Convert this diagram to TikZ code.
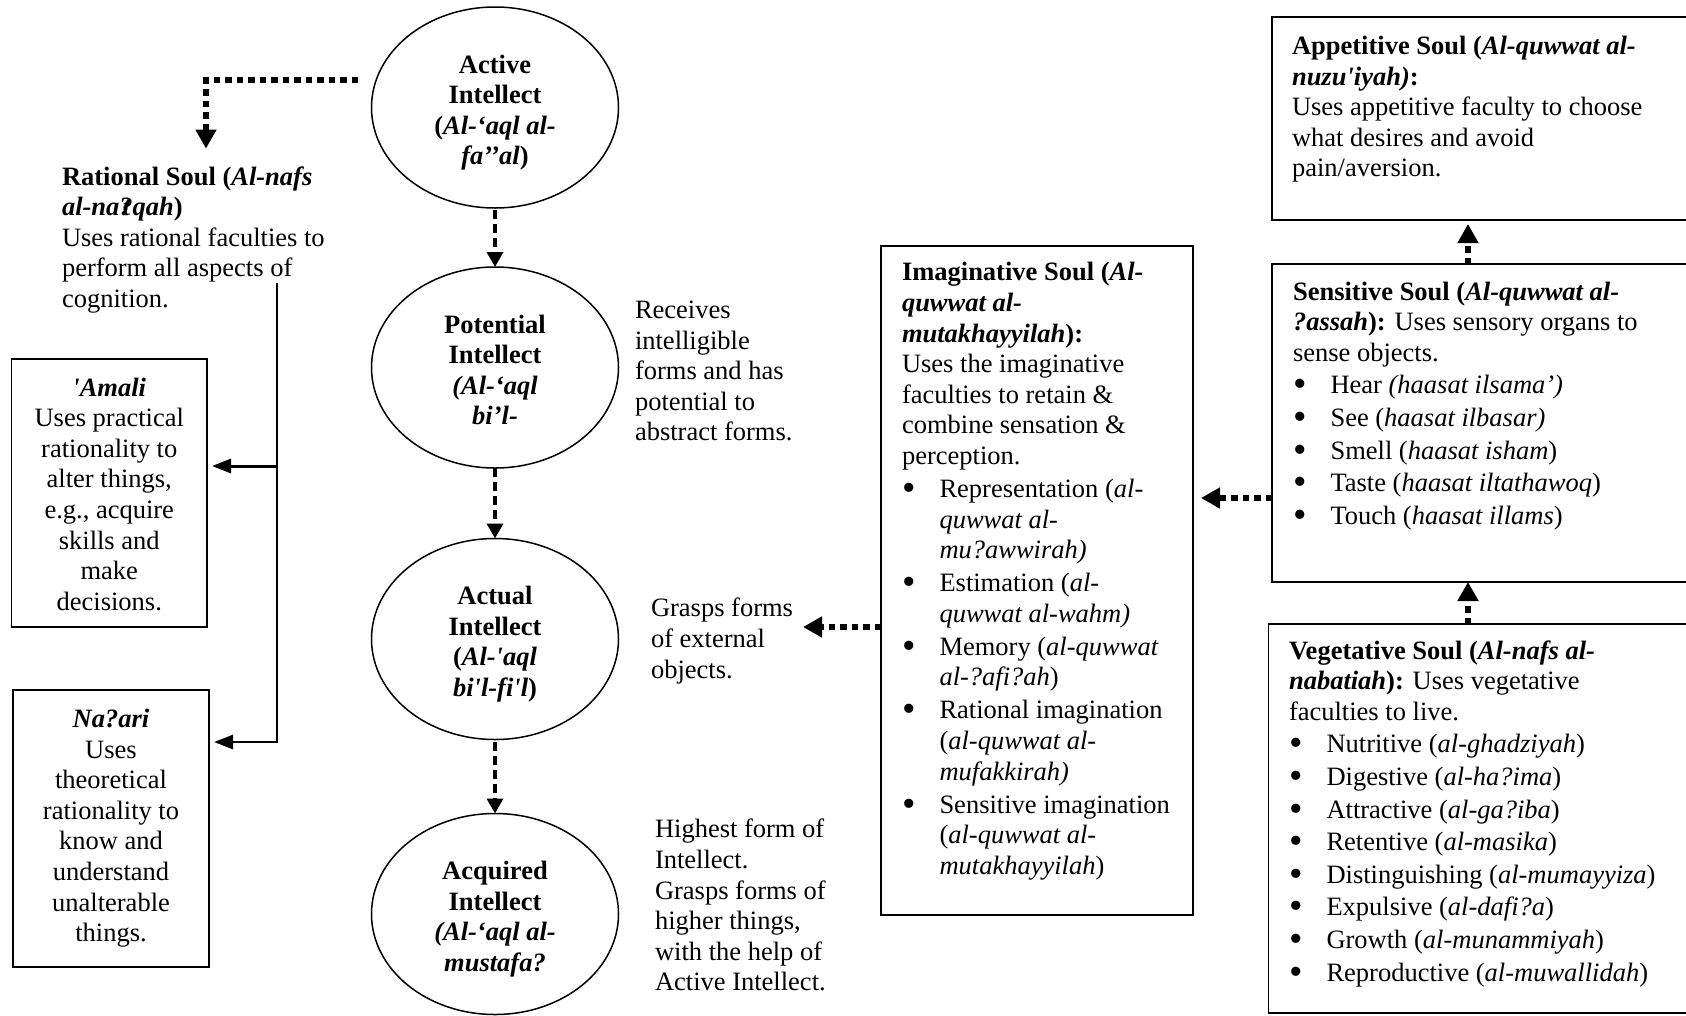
\documentclass[tikz,border=0pt]{standalone}
\usepackage{fontspec}
\setmainfont{Liberation Serif}
\usetikzlibrary{arrows.meta,shapes.geometric,calc}
\newcommand\sq{\XeTeXglyph\XeTeXcharglyph"27\relax}
\newcommand\bul{\makebox[37.5pt][l]{\raisebox{-3pt}{\scalebox{1.45}{\textbullet}}}}
\newcommand\ind{\hspace*{37.5pt}}
\newcommand\tallstrut{\rule{0pt}{32pt}}
\begin{document}
\begin{tikzpicture}[x=1pt,y=-1pt,
  every node/.style={inner sep=0pt,outer sep=0pt,font=\fontsize{26.5}{30.6}\selectfont},
  intellect/.style={ellipse,draw,line width=1.5pt,minimum width=247pt,minimum height=201pt,
    align=center,font=\fontsize{26.5}{30.6}\selectfont\bfseries},
  soulbox/.style={rectangle,draw,line width=1.8pt},
  txt/.style={anchor=north west,align=left},
  dasharrow/.style={line width=3.5pt,dash pattern=on 9pt off 5pt,-{Triangle[length=15pt,width=16pt]}},
  dotarrow/.style={line width=6pt,dash pattern=on 6.5pt off 5pt,-{Triangle[length=19pt,width=20pt]}},
  solidarrow/.style={line width=3pt,-{Triangle[length=19pt,width=14pt]}}]
\useasboundingbox (0,0) rectangle (1686,1015);
\clip (0,0) rectangle (1686,1015);

% intellect chain
\node[intellect] (act) at (495,107.5) {\tallstrut Active\\Intellect\\(\textit{Al-‘aql al-}\\\textit{fa’’al})\strut};
\node[intellect] (pot) at (495,367.5) {\tallstrut Potential\\Intellect\\\textit{(Al-‘aql}\\\textit{bi’l-}\strut};
\node[intellect] (actu) at (495,639) {\tallstrut Actual\\Intellect\\(\textit{Al-\sq aql}\\\textit{bi\sq l-fi\sq l})\strut};
\node[intellect] (acq) at (495,914) {\tallstrut Acquired\\Intellect\\\textit{(Al-‘aql al-}\\\textit{mustafa?}\strut};

\draw[dasharrow] ([yshift=-2pt]act.south) -- (pot.north);
\draw[dasharrow] (pot.south) -- (actu.north);
\draw[dasharrow] ([yshift=-2pt]actu.south) -- (acq.north);

% descriptions of intellects
\node[txt] (rec) at (635,297) {\strut Receives\\intelligible\\forms and has\\potential to\\abstract forms.\strut};
\node[txt] (gra) at (651,595.5) {\strut Grasps forms\\of external\\objects.\strut};
\node[txt] (hig) at (655,816.5) {\strut Highest form of\\Intellect.\\Grasps forms of\\higher things,\\with the help of\\Active Intellect.\strut};

% rational soul
\node[txt] (rat) at (62,163.6) {\strut\textbf{Rational Soul (\textit{Al-nafs}}\\
\textbf{\textit{al-na\makebox[0.5em][l]{\rlap{?}\kern0.12em t}qah})}\\
Uses rational faculties to\\perform all aspects of\\cognition.\strut};

\node[soulbox,minimum width=195.5pt,minimum height=268pt,align=center] (ama) at (109.25,493)
 {\rule{0pt}{29.5pt}\textbf{\textit{\sq Amali}}\\Uses practical\\rationality to\\alter things,\\e.g., acquire\\skills and\\make\\decisions.\strut};
\node[soulbox,minimum width=196pt,minimum height=277pt,align=center] (naz) at (111,828.5)
 {\strut\textbf{\textit{Na?ari}}\\Uses\\theoretical\\rationality to\\know and\\understand\\unalterable\\things.\strut};

\draw[dotarrow] ([xshift=-137pt,yshift=27.5pt]act.center) -| ([xshift=144pt,yshift=15pt]rat.north west);
\coordinate (vtop) at (277,283);
\coordinate (vmid) at (277,466);
\coordinate (vbot) at (277,742);
\draw[solidarrow,line width=2.6pt] (vtop) -- (vbot) -- ($(vbot -| naz.east)+(5,0)$);
\draw[solidarrow] (vmid) -- ($(vmid -| ama.east)+(5,0)$);

% imaginative soul
\node[soulbox,minimum width=312pt,minimum height=669pt] (imb) at (1037,580.5) {};
\node[txt] (imt) at ([xshift=21pt,yshift=-13.5pt]imb.north west) {\strut\textbf{Imaginative Soul (\textit{Al-}}\\
\textbf{\textit{quwwat al-}}\\
\textbf{\textit{mutakhayyilah}):}\\
Uses the imaginative\\
faculties to retain \&\\
combine sensation \&\\
perception.\\[2.4pt]
\bul Representation (\textit{al-}\\
\ind\textit{quwwat al-}\\
\ind\textit{mu?awwirah)}\\[2.4pt]
\bul Estimation (\textit{al-}\\
\ind\textit{quwwat al-wahm)}\\[2.4pt]
\bul Memory (\textit{al-quwwat}\\
\ind\textit{al-?afi?ah})\\[2.4pt]
\bul Rational imagination\\
\ind(\textit{al-quwwat al-}\\
\ind\textit{mufakkirah)}\\[2.4pt]
\bul Sensitive imagination\\
\ind(\textit{al-quwwat al-}\\
\ind\textit{mutakhayyilah})\strut};

% appetitive soul
\node[soulbox,minimum width=428pt,minimum height=203pt] (apb) at (1486,118.5) {};
\node[txt] (apt) at ([xshift=20pt,yshift=-16pt]apb.north west) {\strut\textbf{Appetitive Soul (\textit{Al-quwwat al-}}\\
\textbf{\textit{nuzu\sq iyah)}:}\\
Uses appetitive faculty to choose\\
what desires and avoid\\
pain/aversion.\strut};

% sensitive soul
\node[soulbox,minimum width=428pt,minimum height=318pt] (seb) at (1486,423) {};
\node[txt] (set) at ([xshift=21pt,yshift=-14.6pt]seb.north west) {\strut\textbf{Sensitive Soul (\textit{Al-quwwat al-}}\\
\textbf{\textit{?assah}):} Uses sensory organs to\\
sense objects.\\[2pt]
\bul Hear \textit{(haasat ilsama’)}\\[2pt]
\bul See (\textit{haasat ilbasar)}\\[2pt]
\bul Smell (\textit{haasat isham})\\[2pt]
\bul Taste (\textit{haasat iltathawoq})\\[2pt]
\bul Touch (\textit{haasat illams})\strut};

% vegetative soul
\node[soulbox,minimum width=431.5pt,minimum height=389pt] (veb) at (1484.25,818.5) {};
\node[txt] (vet) at ([xshift=20.5pt,yshift=-13.6pt]veb.north west) {\strut\textbf{Vegetative Soul (\textit{Al-nafs al-}}\\
\textbf{\textit{nabatiah}):} Uses vegetative\\
faculties to live.\\[2pt]
\bul Nutritive (\textit{al-ghadziyah})\\[2pt]
\bul Digestive (\textit{al-ha?ima})\\[2pt]
\bul Attractive (\textit{al-ga?iba})\\[2pt]
\bul Retentive (\textit{al-masika})\\[2pt]
\bul Distinguishing (\textit{al-mumayyiza})\\[2pt]
\bul Expulsive (\textit{al-dafi?a})\\[2pt]
\bul Growth (\textit{al-munammiyah})\\[2pt]
\bul Reproductive (\textit{al-muwallidah})\strut};

% dotted connectors on the right
\coordinate (gtip) at (803,627);
\draw[dotarrow] (imb.west |- gtip) -- (gtip);
\draw[dotarrow] ($(seb.west)+(0,75)$) -- ($(imb.east)+(8,-82.5)$);
\draw[dotarrow] ($(seb.north)+(-18,0)$) -- ($(apb.south)+(-18,4)$);
\draw[dotarrow] ($(veb.north)+(-16.25,0)$) -- ($(seb.south)+(-18,0)$);
\end{tikzpicture}
\end{document}
